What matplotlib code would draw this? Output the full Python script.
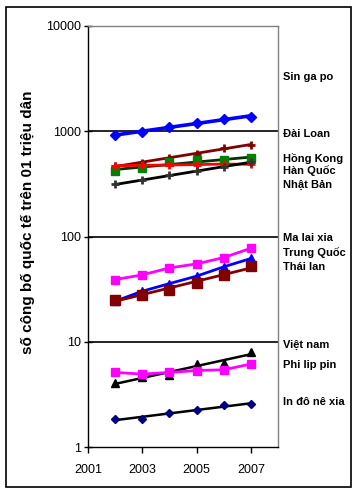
import numpy as np
import matplotlib
matplotlib.use("Agg")
import matplotlib.pyplot as plt
from matplotlib.patches import Rectangle

plt.rcParams['font.family'] = ['Liberation Sans', 'DejaVu Sans']

years = np.array([2002, 2003, 2004, 2005, 2006, 2007])

# số công bố quốc tế / 1 triệu dân
singapore = [916, 985, 1099, 1210, 1309, 1368]
dai_loan = [468, 503, 557, 614, 689, 747]
hong_kong = [417, 452, 511, 530, 530, 551]
han_quoc = [470, 475, 478, 482, 488, 485]
nhat_ban = [313, 342, 382, 417, 458, 511]
malaixia = [39.0, 43.2, 50.3, 54.9, 63.1, 77.3]
trung_quoc = [24.3, 30.2, 35.7, 42.0, 51.5, 61.8]
thai_lan = [25.2, 28.1, 30.9, 36.3, 43.5, 52.2]
viet_nam = [4.05, 4.61, 4.85, 6.13, 6.27, 7.98]
philippin = [5.11, 4.93, 5.11, 5.33, 5.42, 6.14]
indonesia = [1.85, 1.85, 2.09, 2.25, 2.49, 2.56]

labels = ["Sin ga po", "Đài Loan", "Hồng Kong", "Hàn Quốc", "Nhật Bản",
          "Ma lai xia", "Trung Quốc", "Thái lan",
          "Việt nam", "Phi lip pin", "In đô nê xia"]
label_px_y = [77, 134, 158, 171, 185, 238, 253, 267, 345, 365, 402]

# (data, marker, marker color, line color, trend line?, marker size, line width)
series = [
    (singapore, 'D', 'blue', 'blue', True, 5.5, 2.6),
    (dai_loan, '+', '#800000', '#800000', True, 6, 2),
    (hong_kong, 's', 'green', '#003300', True, 6, 2),
    (han_quoc, '+', 'red', 'red', False, 6, 2),
    (nhat_ban, '+', '#333333', 'black', True, 6, 2),
    (malaixia, 's', 'magenta', 'magenta', False, 6, 2),
    (trung_quoc, '^', 'blue', 'blue', False, 6, 2),
    (thai_lan, 's', '#800000', '#800000', True, 7.5, 2),
    (viet_nam, '^', 'black', 'black', True, 6, 1.8),
    (philippin, 's', 'magenta', 'magenta', False, 6, 2),
    (indonesia, 'D', '#000080', 'black', True, 4.5, 1.8),
]

W, H = 358, 493
fig = plt.figure(figsize=(W / 100, H / 100), dpi=100)
ax = fig.add_axes([88 / W, 1 - 447 / H, (278 - 88) / W, (447 - 26) / H])

for vals, mk, mc, lc, trend, ms, lw in series:
    vals = np.array(vals)
    if trend:
        k, b = np.polyfit(years, np.log10(vals), 1)
        ax.plot(years, 10 ** (k * years + b), color=lc, lw=lw, zorder=2)
    else:
        ax.plot(years, vals, color=lc, lw=lw, zorder=2)
    ax.plot(years, vals, linestyle='none', marker=mk, color=mc, ms=ms,
            mew=2 if mk == '+' else 1, zorder=3)

ax.set_yscale('log')
ax.set_ylim(1, 10000)
ax.set_xlim(2001, 2008)
ax.set_xticks([2001, 2003, 2005, 2007])
ax.set_yticks([1, 10, 100, 1000, 10000])
ax.set_yticklabels(['1', '10', '100', '1000', '10000'])
ax.yaxis.set_minor_locator(matplotlib.ticker.NullLocator())
ax.tick_params(axis='y', direction='inout', length=6, width=1, labelsize=9, pad=2)
ax.tick_params(axis='x', direction='out', length=4, width=1, labelsize=9, pad=8)
for y in [10, 100, 1000]:
    ax.axhline(y, color='black', lw=1.2, zorder=1)

ax.spines['left'].set_color('black')
ax.spines['bottom'].set_color('black')
ax.spines['top'].set_color('#808080')
ax.spines['right'].set_color('#808080')
for s in ax.spines.values():
    s.set_linewidth(1)

fig.text(28 / W, 1 - 222 / H, 'số công bố quốc tế trên 01 triệu dân',
         rotation=90, ha='center', va='center', fontsize=11, fontweight='bold')

for lab, py in zip(labels, label_px_y):
    fig.text(283 / W, 1 - py / H, lab, ha='left', va='center',
             fontsize=8, fontweight='bold')

fig.patches.append(Rectangle((6 / W, 1 - 487 / H), (351 - 6) / W, (487 - 7) / H,
                             transform=fig.transFigure, fill=False,
                             edgecolor='black', lw=1.2))

fig.savefig('out.png', dpi=100)
